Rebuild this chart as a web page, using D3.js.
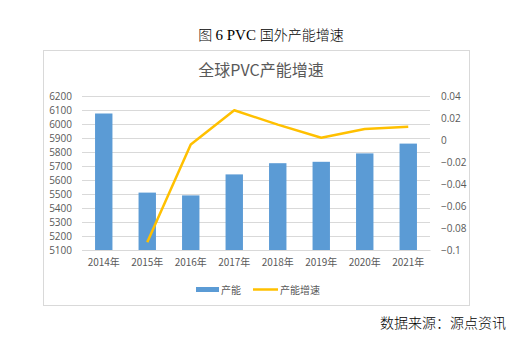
<!DOCTYPE html>
<html><head><meta charset="utf-8">
<script src="https://cdn.jsdelivr.net/npm/d3@7"></script>
<style>body{margin:0;background:#fff;} svg{display:block;}</style>
</head><body>
<script>
const categories = ["2014年","2015年","2016年","2017年","2018年","2019年","2020年","2021年"];
const capacity = [6075, 5510, 5490, 5640, 5720, 5730, 5790, 5860];
const growth = [null, -0.093, -0.004, 0.027, 0.014, 0.002, 0.010, 0.012];
const leftTicks = [5100,5200,5300,5400,5500,5600,5700,5800,5900,6000,6100,6200];
const rightTicks = [-0.1,-0.08,-0.06,-0.04,-0.02,0,0.02,0.04];

const W=515,H=342;
const svg=d3.select("body").append("svg").attr("width",W).attr("height",H);
const cjk='"Noto Sans CJK SC","Noto Sans",sans-serif';
const serif='"Liberation Serif","Noto Sans CJK SC",serif';

// outer caption
const cap = svg.append("text").attr("x",271).attr("y",40).attr("text-anchor","middle")
  .attr("font-size",14).attr("fill","#000").attr("font-weight",300);
cap.append("tspan").attr("font-family",cjk).text("图 ");
cap.append("tspan").attr("font-family",serif).attr("font-size",15).attr("font-weight",400).text("6 PVC ");
cap.append("tspan").attr("font-family",cjk).text("国外产能增速");

// chart border
svg.append("rect").attr("x",43.5).attr("y",50.5).attr("width",426).attr("height",255)
  .attr("fill","#fff").attr("stroke","#D9D9D9").attr("stroke-width",1);

svg.append("text").attr("x",261).attr("y",76).attr("text-anchor","middle")
  .attr("font-family",cjk).attr("font-size",16).attr("fill","#595959").text("全球PVC产能增速");

const x0=82,x1=430,yTop=96,yBot=250;
const xc=d3.scaleBand().domain(categories).range([x0,x1]);
const yL=d3.scaleLinear().domain([5100,6200]).range([yBot,yTop]);
const yR=d3.scaleLinear().domain([-0.1,0.04]).range([yBot,yTop]);

// grid
svg.append("g").selectAll("line").data(leftTicks).join("line")
  .attr("x1",x0).attr("x2",x1).attr("y1",d=>Math.round(yL(d))+0.5).attr("y2",d=>Math.round(yL(d))+0.5)
  .attr("stroke","#D9D9D9").attr("stroke-width",1);

// left axis
const gl=svg.append("g").attr("transform",`translate(${x0},0)`)
  .call(d3.axisLeft(yL).tickValues(leftTicks).tickSize(0).tickPadding(10).tickFormat(d3.format("d")));
gl.select(".domain").remove();
gl.selectAll("text").attr("font-family",'"Open Sans","Noto Sans",sans-serif').attr("font-size",10).attr("fill","#595959");

// right axis
const gr=svg.append("g").attr("transform",`translate(${x1},0)`)
  .call(d3.axisRight(yR).tickValues(rightTicks).tickSize(0).tickPadding(11).tickFormat(d=>d3.format("")(+d.toFixed(2))));
gr.select(".domain").remove();
gr.selectAll("text").attr("font-family",'"Open Sans","Noto Sans",sans-serif').attr("font-size",10).attr("fill","#595959");

// x axis
const gx=svg.append("g").attr("transform",`translate(0,${yBot})`)
  .call(d3.axisBottom(xc).tickSize(0).tickPadding(9));
gx.select(".domain").attr("stroke","#D9D9D9");
gx.selectAll("text").attr("font-family",cjk).attr("font-size",10).attr("fill","#595959");

// bars
svg.append("g").selectAll("rect").data(capacity).join("rect")
  .attr("x",(d,i)=>xc(categories[i])+xc.bandwidth()/2-8.7).attr("width",17.4)
  .attr("y",d=>yL(d)).attr("height",d=>yBot-yL(d)).attr("fill","#5B9BD5");

// line
const line=d3.line().defined(d=>d.v!=null).x(d=>xc(d.c)+xc.bandwidth()/2).y(d=>yR(d.v));
svg.append("path").datum(categories.map((c,i)=>({c,v:growth[i]})))
  .attr("d",line).attr("fill","none").attr("stroke","#FFC000").attr("stroke-width",2.5).attr("stroke-linejoin","round");

// legend
const lg=svg.append("g").attr("font-family",cjk).attr("font-size",10).attr("fill","#595959");
lg.append("rect").attr("x",196).attr("y",287).attr("width",23).attr("height",5).attr("fill","#5B9BD5");
lg.append("text").attr("x",221).attr("y",293.5).text("产能");
lg.append("line").attr("x1",253).attr("x2",278).attr("y1",289.5).attr("y2",289.5).attr("stroke","#FFC000").attr("stroke-width",2.5);
lg.append("text").attr("x",280).attr("y",293.5).text("产能增速");

// source
svg.append("text").attr("x",506).attr("y",328).attr("text-anchor","end")
  .attr("font-family",cjk).attr("font-size",14).attr("font-weight",300).attr("fill","#000").text("数据来源：源点资讯");
</script>
</body></html>
